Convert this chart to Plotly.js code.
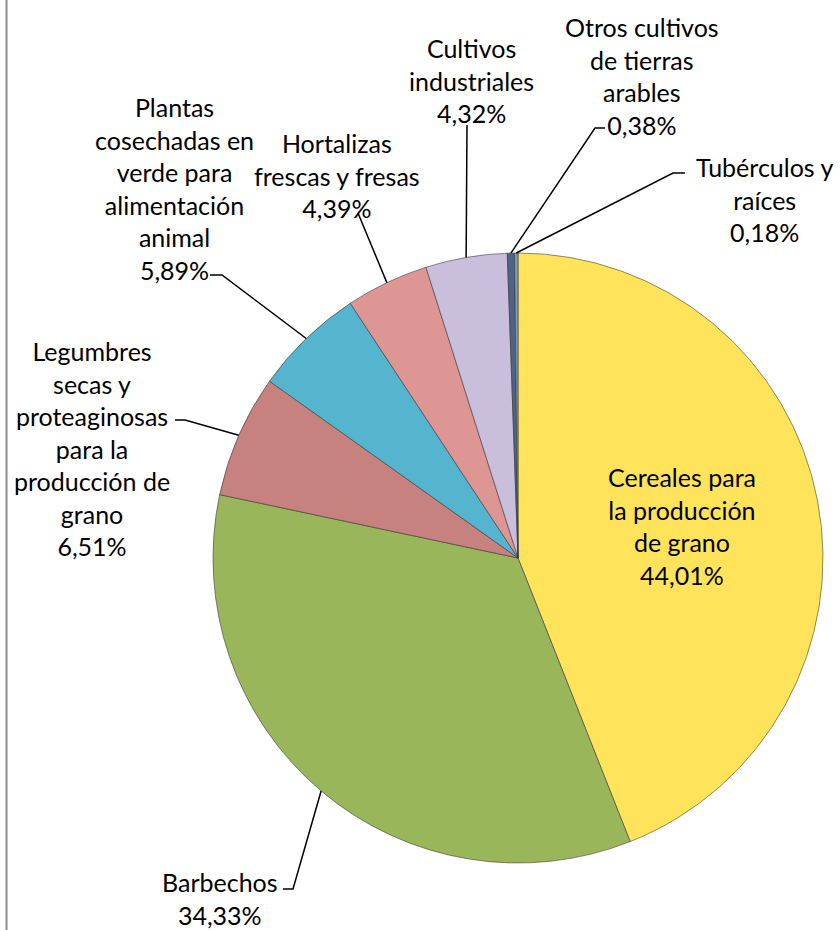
<!DOCTYPE html>
<html><head><meta charset="utf-8">
<script src="https://cdn.plot.ly/plotly-3.0.1.min.js"></script>
<style>html,body{margin:0;padding:0;background:#fff}#chart{width:840px;height:930px}</style>
</head><body><div id="chart"></div>
<script>
// ---- data ----
const categories = [
  'Cereales para la producción de grano',
  'Barbechos',
  'Legumbres secas y proteaginosas para la producción de grano',
  'Plantas cosechadas en verde para alimentación animal',
  'Hortalizas frescas y fresas',
  'Cultivos industriales',
  'Otros cultivos de tierras arables',
  'Tubérculos y raíces'
];
const labelText = [
  'Cereales para<br>la producción<br>de grano',
  'Barbechos',
  'Legumbres<br>secas y<br>proteaginosas<br>para la<br>producción de<br>grano',
  'Plantas<br>cosechadas en<br>verde para<br>alimentación<br>animal',
  'Hortalizas<br>frescas y fresas',
  'Cultivos<br>industriales',
  'Otros cultivos<br>de tierras<br>arables',
  'Tubérculos y<br>raíces'
];
const shares = [44.01, 34.33, 6.51, 5.89, 4.39, 4.32, 0.38, 0.18];
const sliceColors = ['#FFE35A', '#9AB65A', '#C7817F', '#55B4CE', '#DE9694', '#C9BEDB', '#4E6485', '#7F9BC0'];

// ---- layout constants (pixels) ----
const W = 840, H = 930, CX = 518, CY = 558, R = 305;
// label centres and leader-line bend points (pixels)
const labelPos = [
  {x: 682, y: 526, path: null},
  {x: 220, y: 898, path: [[283, 889], [293, 889]]},
  {x: 92,  y: 448, path: [[175, 420], [185, 420]]},
  {x: 174, y: 188, path: [[210, 275], [222, 275]]},
  {x: 337, y: 176, path: [[358, 213]]},
  {x: 471, y: 80,  path: [[467, 125]]},
  {x: 642, y: 76,  path: [[605, 128], [595, 128]]},
  {x: 764, y: 199, path: [[685, 173], [673, 173]]}
];

const px = x => x / W;
const py = y => 1 - y / H;
const fmt = v => v.toFixed(2).replace('.', ',') + '%';

const total = shares.reduce((a, b) => a + b, 0);
let cum = 0;
const annotations = [];
const shapes = [{
  type: 'line', xref: 'paper', yref: 'paper',
  x0: px(6.5), x1: px(6.5), y0: 0, y1: 1,
  line: {color: '#8c8c8c', width: 2}
}];
shares.forEach((v, i) => {
  const mid = (cum + v / 2) / total * 2 * Math.PI;
  cum += v;
  const ax = CX + R * Math.sin(mid), ay = CY - R * Math.cos(mid);
  const lp = labelPos[i];
  annotations.push({
    xref: 'paper', yref: 'paper', x: px(lp.x), y: py(lp.y),
    xanchor: 'center', yanchor: 'middle', align: 'center', showarrow: false,
    text: labelText[i] + '<br>' + fmt(v),
    font: {family: 'Lato, "Open Sans", sans-serif', size: 25, color: '#000'}
  });
  if (lp.path) {
    const pts = lp.path.concat([[ax, ay]]);
    const d = pts.map((p, k) => (k ? 'L' : 'M') + px(p[0]).toFixed(5) + ',' + py(p[1]).toFixed(5)).join(' ');
    shapes.push({type: 'path', xref: 'paper', yref: 'paper', path: d, line: {color: '#000', width: 1.5}});
  }
});

const trace = {
  type: 'pie',
  labels: categories,
  values: shares,
  sort: false,
  direction: 'clockwise',
  rotation: 0,
  textinfo: 'none',
  hoverinfo: 'label+percent',
  marker: {colors: sliceColors, line: {color: 'rgba(50,50,50,0.55)', width: 1}},
  domain: {x: [px(CX - R), px(CX + R)], y: [py(CY + R), py(CY - R)]}
};

Plotly.newPlot('chart', [trace], {
  width: W, height: H,
  margin: {l: 0, r: 0, t: 0, b: 0},
  showlegend: false,
  paper_bgcolor: '#fff',
  annotations: annotations,
  shapes: shapes
}, {staticPlot: true});
</script></body></html>
